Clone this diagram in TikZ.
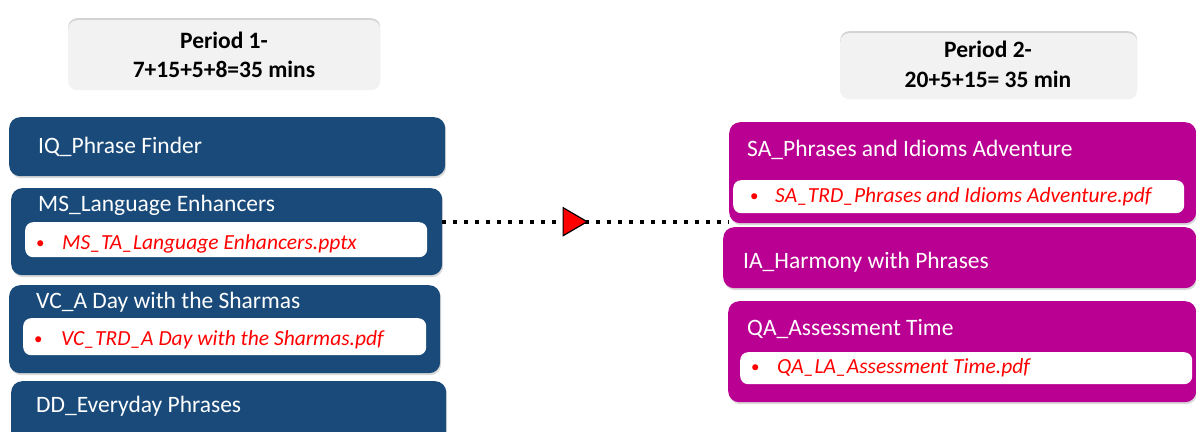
\documentclass[tikz,border=0pt]{standalone}
\usepackage{fontspec}
\setmainfont{Carlito}
\usetikzlibrary{shadows,decorations.markings}
\definecolor{navy}{RGB}{25,74,122}
\definecolor{magbox}{RGB}{186,0,146}
\definecolor{hdrgray}{RGB}{242,242,242}
\tikzset{
  x=1pt, y=-1pt,
  hdrbox/.style={draw=none, fill=hdrgray, rounded corners=9pt, anchor=north west, inner sep=0,
     drop shadow={shadow xshift=0pt, shadow yshift=2pt, opacity=0.35}},
  bluebox/.style={draw=none, fill=navy, rounded corners=11pt, anchor=north west, inner sep=0,
     drop shadow={shadow xshift=1pt, shadow yshift=-2pt, opacity=0.3}},
  magbox/.style={draw=none, fill=magbox, rounded corners=11pt, anchor=north west, inner sep=0,
     drop shadow={shadow xshift=1pt, shadow yshift=-2pt, opacity=0.3}},
  filebox/.style={draw=none, fill=white, rounded corners=8pt, anchor=north west, inner sep=0},
  hdrtext/.style={anchor=base, inner sep=0, font=\fontsize{23.5}{28}\selectfont\bfseries, text=black},
  titletext/.style={anchor=base west, inner sep=0, font=\fontsize{23.5}{28}\selectfont, text=white},
  filetext/.style={anchor=base west, inner sep=0, font=\fontsize{21.5}{26}\selectfont\itshape, text=red},
  bullettext/.style={anchor=base west, inner sep=0, font=\fontsize{17}{20}\selectfont, text=red},
  dotline/.style={line width=4pt, dash pattern=on 4pt off 7pt, black},
}
\begin{document}
\begin{tikzpicture}
\useasboundingbox (0,0) rectangle (1196,431);
% headers
\node[hdrbox, minimum width=312pt, minimum height=70pt] (h1) at (68,20) {};
\node[hdrtext] (h1a) at (224,48) {Period 1-};
\node[hdrtext] (h1b) at (224,77) {7+15+5+8=35 mins};
\node[hdrbox, minimum width=297pt, minimum height=66pt] (h2) at (840,33) {};
\node[hdrtext] (h2a) at (988,57) {Period 2-};
\node[hdrtext] (h2b) at (988,87) {20+5+15= 35 min};
% left column
\node[bluebox, minimum width=436pt, minimum height=59pt] (iq) at (9,117) {};
\node[titletext] (iqt) at (38,153) {IQ\_Phrase Finder};
\node[bluebox, minimum width=431pt, minimum height=87pt] (ms) at (11,188) {};
\node[titletext] (mst) at (38,211) {MS\_Language Enhancers};
\node[filebox, minimum width=402pt, minimum height=35pt] (msf) at (25,222) {};
\node[bullettext] (msb) at (36,248) {•};
\node[filetext] (msft) at (62,249) {MS\_TA\_Language Enhancers.pptx};
\node[bluebox, minimum width=431pt, minimum height=88pt] (vc) at (9,285) {};
\node[titletext] (vct) at (36,308) {VC\_A Day with the Sharmas};
\node[filebox, minimum width=403pt, minimum height=37pt] (vcf) at (23,318) {};
\node[bullettext] (vcb) at (34,344) {•};
\node[filetext] (vcft) at (61,345) {VC\_TRD\_A Day with the Sharmas.pdf};
\node[bluebox, minimum width=435pt, minimum height=70pt] (dd) at (11,381) {};
\node[titletext] (ddt) at (36,412) {DD\_Everyday Phrases};
% right column
\node[magbox, minimum width=467pt, minimum height=101pt] (sa) at (729,122) {};
\node[titletext] (sat) at (747,156) {SA\_Phrases and Idioms Adventure};
\node[filebox, minimum width=451pt, minimum height=33pt] (saf) at (733,180) {};
\node[bullettext] (sab) at (750,201) {•};
\node[filetext] (saft) at (775,202) {SA\_TRD\_Phrases and Idioms Adventure.pdf};
\node[magbox, minimum width=473pt, minimum height=61pt] (ia) at (723,227) {};
\node[titletext] (iat) at (743,268) {IA\_Harmony with Phrases};
\node[magbox, minimum width=468pt, minimum height=101pt] (qa) at (728,301) {};
\node[titletext] (qat) at (747,335) {QA\_Assessment Time};
\node[filebox, minimum width=452pt, minimum height=32pt] (qaf) at (740,352) {};
\node[bullettext] (qab) at (751,372) {•};
\node[filetext] (qaft) at (777,373) {QA\_LA\_Assessment Time.pdf};
% connector
\coordinate (cs) at ([yshift=10pt]ms.east);
\draw[dotline, postaction={decorate, decoration={markings,
   mark=at position 0.505 with {\fill[red, draw=black, line width=1.2pt, solid] (-24,14) -- (0,0) -- (-24,-14) -- cycle;}}}]
   (cs) -- (cs -| sa.west);
\end{tikzpicture}
\end{document}
